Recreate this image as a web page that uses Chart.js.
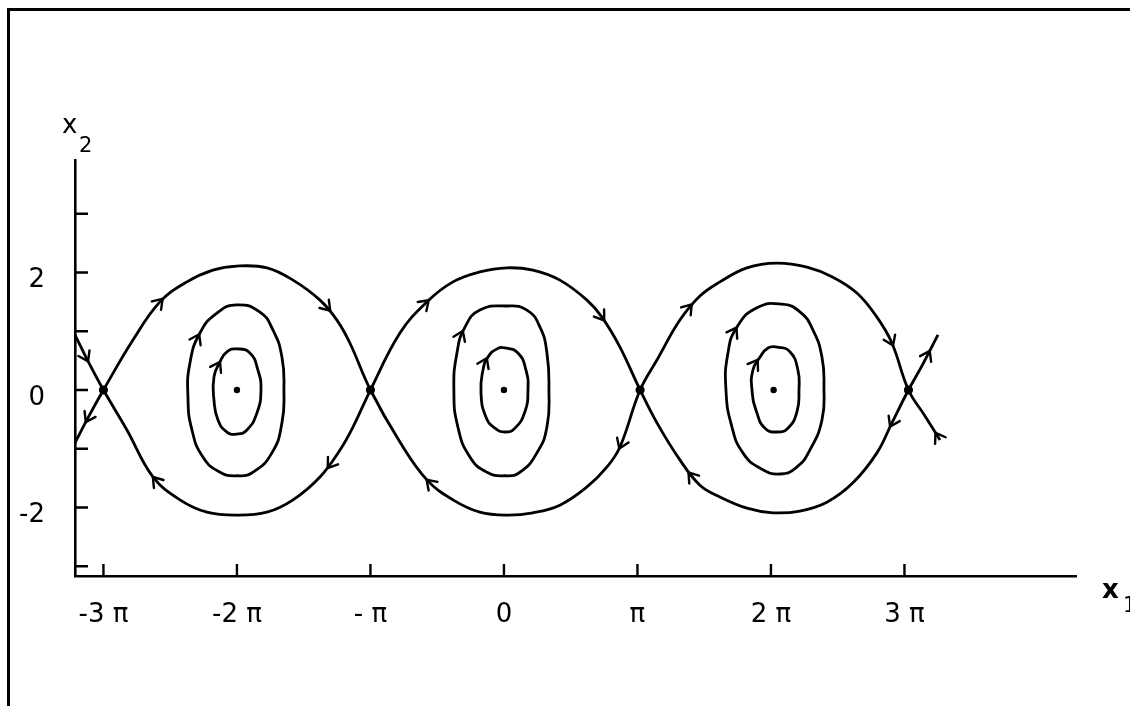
<!DOCTYPE html>
<html>
<head>
<meta charset="utf-8">
<script src="https://cdn.jsdelivr.net/npm/chart.js@4.4.1/dist/chart.umd.min.js"></script>
<style>
  html, body { margin: 0; padding: 0; background: #fff; }
  #wrap { width: 1130px; height: 706px; }
</style>
</head>
<body>
<div id="wrap"><canvas id="phase" width="1130" height="706"></canvas></div>
<script>
// x1 is given in multiples of pi, x2 in plain units
const xTickValues = [-3, -2, -1, 0, 1, 2, 3];
const xTickLabels = ['-3 π', '-2 π', '- π', '0', 'π', '2 π', '3 π'];
const yTickValues = [-3, -2, -1, 0, 1, 2, 3];
const yTickLabels = ['', '-2', '', '0', '', '2', ''];

const xRange = [-3.213, 4.285];
const yRange = [-3.166, 3.915];

// separatrix coming in from the upper left through the saddle at -3π
const separatrixA = [
  [-3.213, 0.94], [-3.109, 0.46], [-3.0, 0],
  [-2.824, -0.68], [-2.629, -1.48], [-2.427, -1.87], [-2.225, -2.08], [-2.0, -2.13],
  [-1.775, -2.08], [-1.58, -1.87], [-1.378, -1.48], [-1.228, -1.02], [-1.131, -0.63], [-1.0, 0],
  [-0.779, 0.97], [-0.577, 1.50], [-0.382, 1.84], [-0.18, 2.01], [0.022, 2.08],
  [0.217, 2.04], [0.419, 1.87], [0.622, 1.53], [0.734, 1.24], [0.869, 0.73], [1.02, 0],
  [1.146, -0.56], [1.318, -1.19], [1.468, -1.62], [1.618, -1.82], [1.82, -2.01], [2.015, -2.09],
  [2.217, -2.06], [2.419, -1.91], [2.614, -1.58], [2.794, -1.07], [2.906, -0.56], [3.03, 0],
  [3.14, 0.45], [3.251, 0.94]
];

// separatrix coming in from the lower left
const separatrixB = [
  [-3.213, -0.90], [-3.11, -0.45], [-3.0, 0],
  [-2.779, 0.85], [-2.577, 1.50], [-2.375, 1.84], [-2.18, 2.04], [-2.0, 2.11],
  [-1.775, 2.08], [-1.58, 1.87], [-1.378, 1.53], [-1.251, 1.19], [-1.154, 0.80], [-1.0, 0],
  [-0.779, -0.885], [-0.577, -1.53], [-0.382, -1.87], [-0.18, -2.08], [0.022, -2.13],
  [0.217, -2.09], [0.419, -1.96], [0.622, -1.65], [0.772, -1.31], [0.869, -0.97], [1.02, 0],
  [1.146, 0.51], [1.318, 1.19], [1.468, 1.60], [1.618, 1.84], [1.82, 2.08], [2.045, 2.16],
  [2.27, 2.09], [2.464, 1.92], [2.644, 1.65], [2.794, 1.24], [2.906, 0.80], [3.03, 0],
  [3.15, -0.43], [3.266, -0.85]
];

// closed orbits, clockwise from the top
const orbitOuterL = [
  [-2.0, 1.45], [-1.83, 1.33], [-1.73, 1.02], [-1.663, 0.56], [-1.648, 0], [-1.663, -0.56],
  [-1.738, -1.07], [-1.88, -1.40], [-2.0, -1.46], [-2.127, -1.40], [-2.255, -1.14],
  [-2.337, -0.68], [-2.367, -0.12], [-2.352, 0.46], [-2.277, 0.97], [-2.15, 1.31]
];
const orbitInnerL = [
  [-2.0, 0.70], [-1.903, 0.63], [-1.843, 0.34], [-1.82, 0], [-1.85, -0.39], [-1.925, -0.68],
  [-2.0, -0.75], [-2.075, -0.715], [-2.142, -0.51], [-2.172, -0.17], [-2.172, 0.22],
  [-2.127, 0.48], [-2.075, 0.65]
];
const orbitOuterC = [
  [0.022, 1.43], [0.172, 1.36], [0.27, 1.07], [0.322, 0.63], [0.337, 0], [0.322, -0.63],
  [0.247, -1.07], [0.12, -1.40], [0.007, -1.46], [-0.127, -1.40], [-0.255, -1.14],
  [-0.345, -0.63], [-0.375, 0], [-0.352, 0.63], [-0.292, 1.07], [-0.18, 1.36]
];
const orbitInnerC = [
  [0.007, 0.715], [0.105, 0.63], [0.165, 0.34], [0.18, 0], [0.157, -0.37], [0.082, -0.65],
  [0.007, -0.715], [-0.067, -0.65], [-0.135, -0.46], [-0.172, -0.05], [-0.157, 0.34],
  [-0.12, 0.56], [-0.052, 0.70]
];
const orbitOuterR = [
  [2.082, 1.46], [2.217, 1.33], [2.315, 1.02], [2.382, 0.56], [2.397, 0.05], [2.382, -0.51],
  [2.292, -1.02], [2.195, -1.31], [2.067, -1.43], [1.918, -1.33], [1.79, -1.07],
  [1.708, -0.63], [1.663, 0], [1.678, 0.63], [1.745, 1.07], [1.895, 1.40]
];
const orbitInnerR = [
  [2.045, 0.73], [2.142, 0.65], [2.202, 0.34], [2.21, 0], [2.195, -0.37], [2.127, -0.65],
  [2.045, -0.715], [1.955, -0.65], [1.895, -0.39], [1.858, 0], [1.865, 0.34],
  [1.918, 0.56], [1.978, 0.715]
];

const centres = [[-2.0, 0], [0.0, 0], [2.02, 0]];
const saddles = [[-3.0, 0], [-1.0, 0], [1.02, 0], [3.03, 0]];

// where the direction arrows sit on the trajectories
const arrows = [
  [-2.577, 1.50], [-1.326, 1.40], [-1.318, -1.24], [-2.614, -1.53], [-3.116, 0.56], [-3.116, -0.48],
  [-2.285, 0.885], [-2.15, 0.43],
  [-0.577, 1.48], [0.734, 1.23], [0.831, -0.885], [-0.554, -1.57], [-0.27, 0.90], [-0.12, 0.46],
  [1.393, 1.40], [1.408, -1.45], [2.876, 0.80], [2.906, -0.56], [1.768, 0.94], [1.903, 0.43],
  [3.176, 0.60], [3.236, -0.80]
];

const INK = '#000';
const toPts = arr => arr.map(([x, y]) => ({ x, y }));

// wrap one point on each side so the spline closes smoothly; the two
// wrap segments are left transparent
const loop = arr => toPts([arr[arr.length - 1], ...arr, arr[0], arr[1]]);
const hideWrap = ctx => {
  const n = ctx.chart.data.datasets[ctx.datasetIndex].data.length;
  return (ctx.p0DataIndex === 0 || ctx.p1DataIndex === n - 1) ? 'rgba(0,0,0,0)' : undefined;
};

const separatrix = pts => ({
  label: 'curve', data: toPts(pts), showLine: true, borderColor: INK, borderWidth: 2.8,
  pointRadius: 0, tension: 0.4
});
const orbit = pts => ({
  label: 'curve', data: loop(pts), showLine: true, borderColor: INK, borderWidth: 2.8,
  pointRadius: 0, tension: 0.5, segment: { borderColor: hideWrap }
});

function bez(a, b, c, d, t) {
  const s = 1 - t;
  return s * s * s * a + 3 * s * s * t * b + 3 * s * t * t * c + t * t * t * d;
}

// frame, inward ticks, axis names and flow arrows
const decorPlugin = {
  id: 'decor',
  beforeDraw(chart) {
    const ctx = chart.ctx;
    ctx.save();
    ctx.strokeStyle = INK;
    ctx.lineWidth = 3;
    ctx.beginPath();
    ctx.moveTo(8.5, 706);
    ctx.lineTo(8.5, 9.5);
    ctx.lineTo(1130, 9.5);
    ctx.stroke();
    ctx.restore();
  },
  afterDatasetsDraw(chart) {
    const { ctx, scales: { x, y } } = chart;
    // sample every drawn bezier segment of the trajectories
    const samples = [];
    chart.data.datasets.forEach((ds, i) => {
      if (ds.label !== 'curve') return;
      const pts = chart.getDatasetMeta(i).data;
      for (let k = 0; k < pts.length - 1; k++) {
        const p = pts[k], q = pts[k + 1];
        const c1x = p.cp2x ?? p.x, c1y = p.cp2y ?? p.y;
        const c2x = q.cp1x ?? q.x, c2y = q.cp1y ?? q.y;
        for (let s = 0; s <= 30; s++) {
          const t = s / 30;
          samples.push({
            x: bez(p.x, c1x, c2x, q.x, t), y: bez(p.y, c1y, c2y, q.y, t),
            seg: [p.x, c1x, c2x, q.x, p.y, c1y, c2y, q.y], t
          });
        }
      }
    });
    ctx.save();
    ctx.strokeStyle = INK;
    ctx.lineWidth = 2.4;
    ctx.lineCap = 'round';
    ctx.lineJoin = 'miter';
    arrows.forEach(([u, v]) => {
      const tx = x.getPixelForValue(u), ty = y.getPixelForValue(v);
      let best = null, bd = Infinity;
      samples.forEach(s => {
        const d = (s.x - tx) ** 2 + (s.y - ty) ** 2;
        if (d < bd) { bd = d; best = s; }
      });
      const [ax, bx, cx, dx, ay, by, cy, dy] = best.seg;
      const t0 = Math.max(0, best.t - 0.02), t1 = Math.min(1, best.t + 0.02);
      let vx = bez(ax, bx, cx, dx, t1) - bez(ax, bx, cx, dx, t0);
      let vy = bez(ay, by, cy, dy, t1) - bez(ay, by, cy, dy, t0);
      const len = Math.hypot(vx, vy) || 1;
      vx /= len; vy /= len;
      // x1 grows while x2 is positive
      if (Math.sign(vx) !== Math.sign(v)) { vx = -vx; vy = -vy; }
      const tipX = best.x + vx * 4, tipY = best.y + vy * 4;
      const L = 11, a = 0.6;
      const ca = Math.cos(a), sa = Math.sin(a);
      const l1x = -vx * ca + vy * sa, l1y = -vy * ca - vx * sa;
      const l2x = -vx * ca - vy * sa, l2y = -vy * ca + vx * sa;
      ctx.beginPath();
      ctx.moveTo(tipX + l1x * L, tipY + l1y * L);
      ctx.lineTo(tipX, tipY);
      ctx.lineTo(tipX + l2x * L, tipY + l2y * L);
      ctx.stroke();
    });
    ctx.restore();
  },
  afterDraw(chart) {
    const { ctx, chartArea, scales: { x, y } } = chart;
    ctx.save();
    ctx.strokeStyle = INK;
    ctx.lineWidth = 2.4;
    ctx.beginPath();
    x.ticks.forEach(t => {
      const px = x.getPixelForValue(t.value);
      ctx.moveTo(px, chartArea.bottom);
      ctx.lineTo(px, chartArea.bottom - 12);
    });
    y.ticks.forEach(t => {
      const py = y.getPixelForValue(t.value);
      ctx.moveTo(chartArea.left, py);
      ctx.lineTo(chartArea.left + 13, py);
    });
    ctx.stroke();

    ctx.fillStyle = INK;
    ctx.textBaseline = 'alphabetic';
    ctx.textAlign = 'left';
    ctx.font = '26px "DejaVu Sans"';
    ctx.fillText('x', 62, 133);
    ctx.font = '21px "DejaVu Sans"';
    ctx.fillText('2', 79, 152);
    ctx.font = 'bold 26px "DejaVu Sans"';
    ctx.fillText('x', 1102, 598);
    ctx.font = '21px "DejaVu Sans"';
    ctx.fillText('1', 1123, 612);
    ctx.restore();
  }
};

new Chart(document.getElementById('phase'), {
  type: 'scatter',
  data: {
    datasets: [
      separatrix(separatrixA),
      separatrix(separatrixB),
      orbit(orbitOuterL), orbit(orbitInnerL),
      orbit(orbitOuterC), orbit(orbitInnerC),
      orbit(orbitOuterR), orbit(orbitInnerR),
      { label: 'centres', data: toPts(centres), pointRadius: 3.2, pointBackgroundColor: INK, pointBorderWidth: 0 },
      { label: 'saddles', data: toPts(saddles), pointRadius: 4.6, pointBackgroundColor: INK, pointBorderWidth: 0 }
    ]
  },
  options: {
    responsive: false,
    animation: false,
    events: [],
    layout: { padding: { top: 160, left: 0, right: 54, bottom: 0 } },
    plugins: { legend: { display: false }, tooltip: { enabled: false } },
    scales: {
      x: {
        type: 'linear', min: xRange[0], max: xRange[1],
        afterFit: s => { s.height = 130; },
        afterBuildTicks: s => { s.ticks = xTickValues.map(value => ({ value })); },
        grid: { display: false, drawTicks: false },
        border: { display: true, color: INK, width: 2.6 },
        ticks: {
          autoSkip: false, maxRotation: 0, padding: 24, color: INK,
          font: { family: 'DejaVu Sans', size: 26 },
          callback: (v, i) => xTickLabels[i]
        }
      },
      y: {
        type: 'linear', min: yRange[0], max: yRange[1],
        afterFit: s => { s.width = 75; },
        afterBuildTicks: s => { s.ticks = yTickValues.map(value => ({ value })); },
        grid: { display: false, drawTicks: false },
        border: { display: true, color: INK, width: 2.6 },
        ticks: {
          autoSkip: false, padding: 30, labelOffset: 8, color: INK,
          font: { family: 'DejaVu Sans', size: 26 },
          callback: (v, i) => yTickLabels[i]
        }
      }
    }
  },
  plugins: [decorPlugin]
});
</script>
</body>
</html>
